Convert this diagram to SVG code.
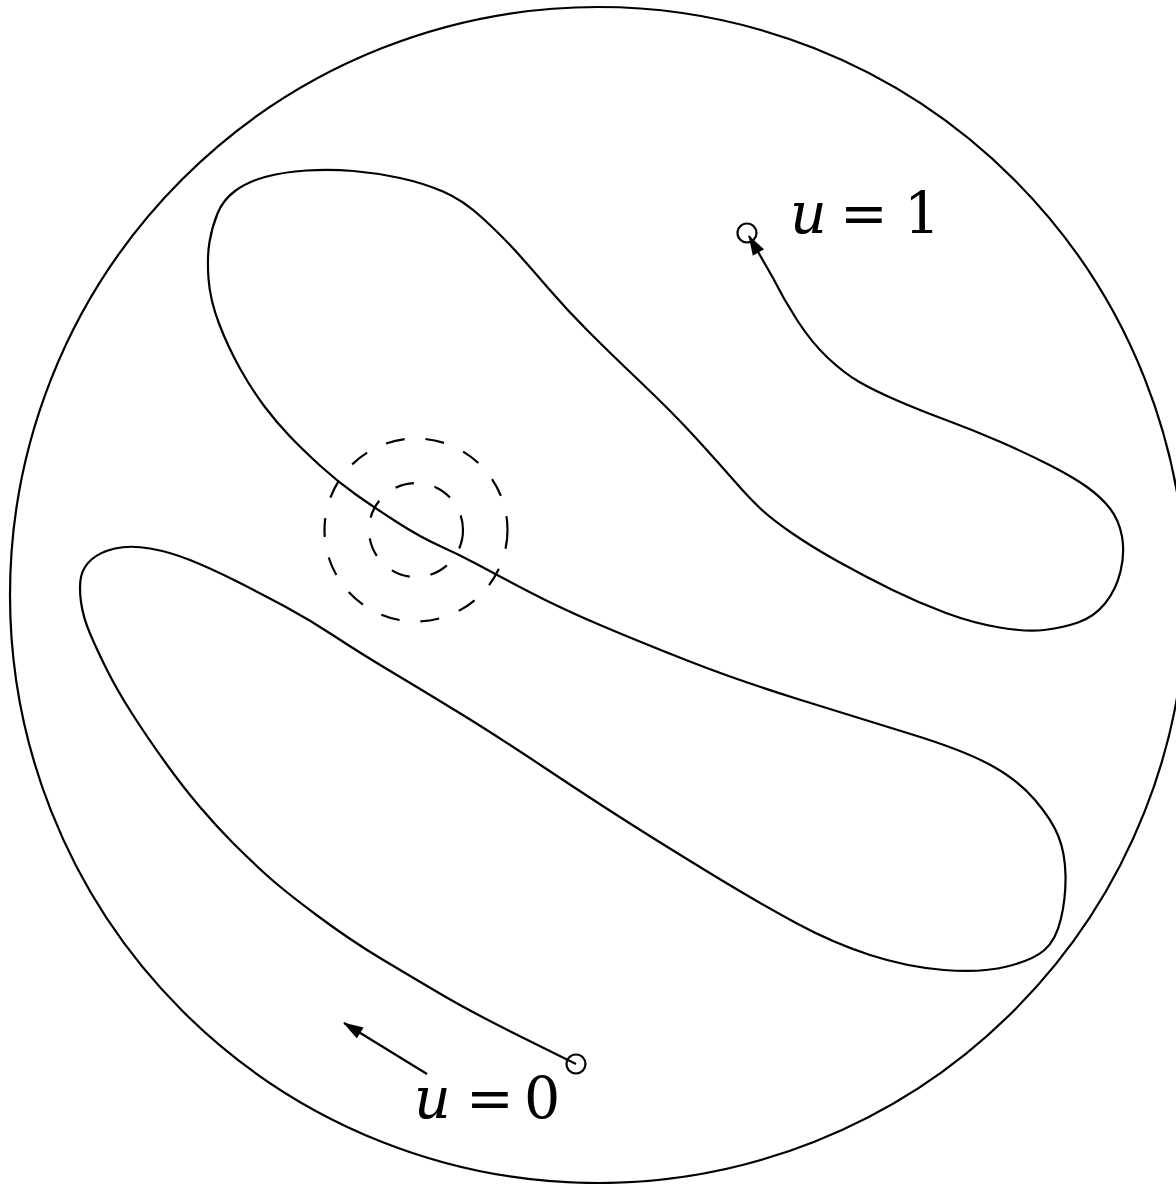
<svg xmlns="http://www.w3.org/2000/svg" width="1176" height="1184" viewBox="0 0 1176 1184">
<style>
.ln{fill:none;stroke:#000;stroke-width:2.2;stroke-linejoin:round}
.dash{fill:none;stroke:#000;stroke-width:2.2;stroke-dasharray:19 21}
.lbl{font-family:"DejaVu Serif","Liberation Serif",serif;font-size:57px;fill:#000}
</style>
<defs>
<marker id="arr" markerUnits="userSpaceOnUse" markerWidth="24" markerHeight="16" viewBox="-22 -8 24 16" refX="0" refY="0" orient="auto" overflow="visible">
<path d="M1,0 L-19,-6.5 L-19,6.5 Z" fill="#000"/>
</marker>
</defs>
<rect width="1176" height="1184" fill="#fff"/>
<g id="disk"><circle cx="598" cy="595" r="588" class="ln"/></g>
<g id="neighbourhood">
<circle cx="416" cy="530" r="91.5" class="dash"/>
<circle cx="416" cy="530" r="47" class="dash"/>
</g>
<g id="start-point"><circle cx="576" cy="1064" r="9.5" class="ln"/></g>
<g id="end-point"><circle cx="747" cy="233" r="9.5" class="ln"/></g>
<g id="connectors">
<path class="ln" marker-end="url(#arr)" d="M576,1064 L524.5,1038.5 Q473,1013 441.5,994.5 Q410,976 380,958 Q350,940 316.5,915 Q283,890 266.5,875 Q250,860 233.5,843.5 Q217,827 200,807 Q183,787 165,762 Q147,737 132,713.5 Q117,690 107,670 Q97,650 90,633.5 Q83,617 81,602 Q79,587 81,577 Q83,567 91.5,559.5 Q100,552 115,548.5 Q130,545 150,548.5 Q170,552 190,560 Q210,568 235,580.5 Q260,593 285,606.5 Q310,620 335,636.5 Q360,653 393.5,673 Q427,693 462,714.5 Q497,736 545,768 Q593,800 630,823.5 Q667,847 713,875 Q759,903 796,923 Q833,943 870,955 Q907,967 944,970 Q981,973 1007,966.5 Q1033,960 1044.5,950 Q1056,940 1061,918.5 Q1066,897 1065.5,875 Q1065,853 1058.5,836.5 Q1052,820 1035,800 Q1018,780 990.5,765 Q963,750 909,733.5 Q855,717 796,698.5 Q737,680 688.5,661 Q640,642 600,625 Q560,608 528.5,591.5 Q497,575 478.5,565 Q460,555 440,546 Q420,537 397.5,522.5 Q375,508 356.5,495 Q338,482 320.5,466 Q303,450 290,436.5 Q277,423 264.5,406.5 Q252,390 240,368.5 Q228,347 219,323.5 Q210,300 208.5,278.5 Q207,257 209.5,242 Q212,227 217.5,213.5 Q223,200 235,191 Q247,182 265,177 Q283,172 306.5,170.5 Q330,169 353.5,171 Q377,173 400,178 Q423,183 443,191.5 Q463,200 483,218.5 Q503,237 516.5,252 Q530,267 548.5,288.5 Q567,310 588.5,331.5 Q610,353 641.5,383 Q673,413 694.5,436.5 Q716,460 733.5,480 Q751,500 762,510 Q773,520 792.5,533.5 Q812,547 839,562 Q866,577 892.5,590 Q919,603 946,613 Q973,623 999.5,627.5 Q1026,632 1044,630 Q1062,628 1078,622.5 Q1094,617 1105,603.5 Q1116,590 1120.5,571.5 Q1125,553 1122,536.5 Q1119,520 1110,508.5 Q1101,497 1087,487 Q1073,477 1049.5,465 Q1026,453 999.5,441.5 Q973,430 946,420 Q919,410 896,400 Q873,390 858.5,381.5 Q844,373 828,358 Q812,343 798,321.5 Q784,300 773,278 L749,236"/>
<line class="ln" x1="427" y1="1074" x2="344" y2="1023" marker-end="url(#arr)"/>
</g>
<g id="labels">
<text class="lbl" y="233"><tspan x="790" font-style="italic">u</tspan> <tspan x="840">=</tspan> <tspan x="904">1</tspan></text>
<text class="lbl" y="1118"><tspan x="414" font-style="italic">u</tspan> <tspan x="466">=</tspan> <tspan x="524">0</tspan></text>
</g>
</svg>
